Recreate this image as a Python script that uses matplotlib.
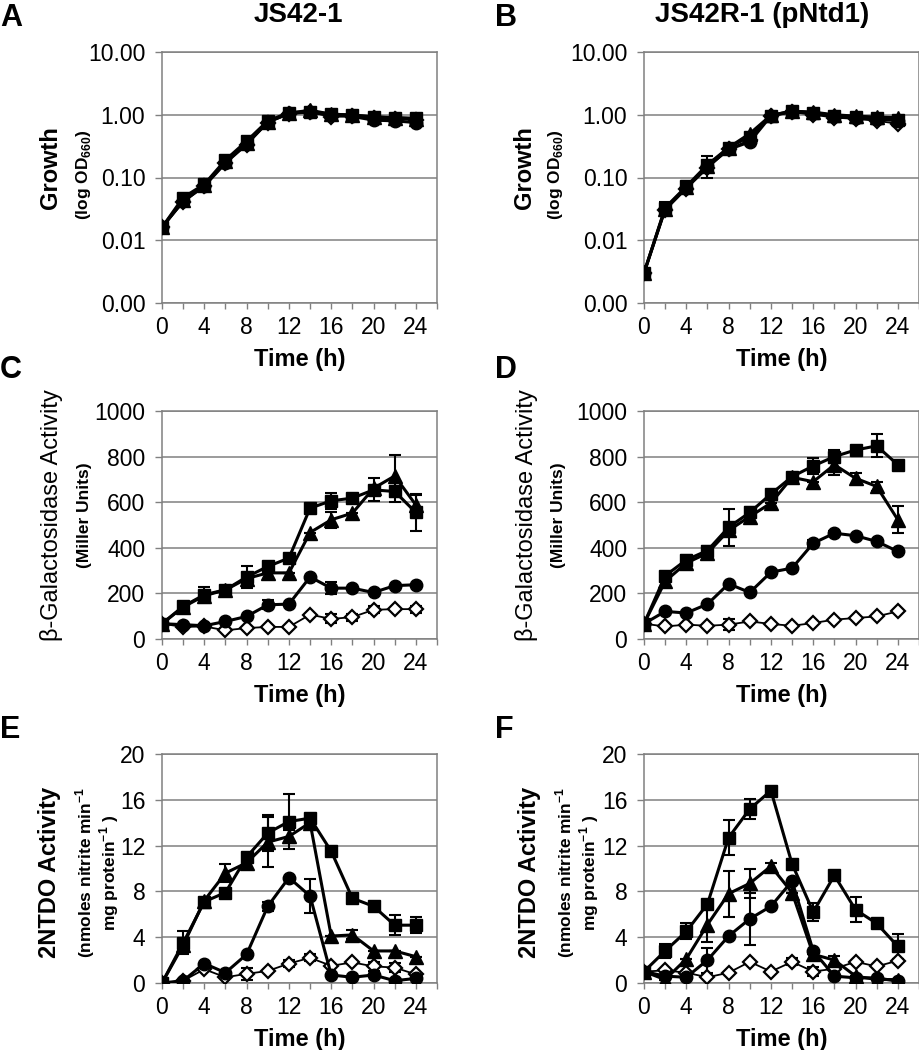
import matplotlib
matplotlib.use("Agg")
import matplotlib.pyplot as plt
from matplotlib.ticker import FixedLocator, FormatStrFormatter, NullLocator

plt.rcParams['font.family'] = ['Liberation Sans', 'DejaVu Sans']
plt.rcParams['mathtext.fontset'] = 'custom'
plt.rcParams['mathtext.rm'] = 'Liberation Sans'
plt.rcParams['mathtext.bf'] = 'Liberation Sans:bold'

W, H = 920, 1050

# time points (h)
time = [0, 2, 4, 6, 8, 10, 12, 14, 16, 18, 20, 22, 24]

# ---- A: JS42-1 growth (OD660) ----
a_square = [0.016, 0.048, 0.078, 0.19, 0.38, 0.80, 1.08, 1.12, 1.03, 0.98, 0.93, 0.90, 0.88]
a_triangle = [0.016, 0.044, 0.075, 0.18, 0.36, 0.78, 1.06, 1.18, 1.02, 0.99, 0.92, 0.89, 0.86]
a_circle = [0.016, 0.042, 0.073, 0.17, 0.34, 0.76, 1.05, 1.10, 0.98, 0.94, 0.82, 0.80, 0.75]
a_diamond = [0.016, 0.040, 0.072, 0.17, 0.33, 0.75, 1.02, 1.12, 0.92, 0.96, 0.88, 0.86, 0.82]

# ---- B: JS42R-1 (pNtd1) growth ----
b_square = [0.003, 0.033, 0.072, 0.16, 0.30, 0.45, 0.97, 1.15, 1.08, 0.97, 0.93, 0.88, 0.84]
b_triangle = [0.003, 0.032, 0.070, 0.15, 0.30, 0.50, 0.98, 1.14, 1.10, 1.00, 0.95, 0.92, 0.90]
b_circle = [0.003, 0.031, 0.068, 0.15, 0.28, 0.37, 0.96, 1.12, 1.06, 0.96, 0.90, 0.86, 0.80]
b_diamond = [0.003, 0.030, 0.066, 0.14, 0.28, 0.40, 0.95, 1.10, 1.00, 0.90, 0.86, 0.80, 0.72]
b_err_square = [0, 0.008, 0, 0.06, 0, 0, 0, 0, 0, 0, 0, 0, 0]

# ---- C: JS42-1 beta-galactosidase (Miller units) ----
c_square = [67, 143, 194, 216, 272, 318, 355, 574, 606, 618, 654, 647, 555]
c_triangle = [67, 140, 190, 215, 265, 290, 290, 467, 523, 552, 661, 715, 588]
c_circle = [67, 63, 58, 77, 99, 150, 153, 272, 223, 223, 204, 234, 238]
c_diamond = [67, 53, 55, 38, 48, 53, 53, 107, 88, 96, 128, 131, 131]
c_err_square = [0, 15, 35, 0, 50, 20, 0, 0, 35, 0, 50, 45, 80]
c_err_triangle = [0, 0, 0, 0, 0, 0, 0, 0, 35, 0, 0, 90, 45]
c_err_circle = [0, 0, 0, 0, 0, 20, 0, 0, 25, 0, 0, 0, 0]
c_err_diamond = [0, 0, 0, 0, 0, 0, 0, 0, 20, 15, 15, 0, 15]

# ---- D: JS42R-1 (pNtd1) beta-galactosidase ----
d_square = [67, 277, 347, 388, 490, 555, 636, 712, 759, 800, 829, 847, 764]
d_triangle = [67, 253, 333, 377, 476, 537, 596, 709, 690, 764, 705, 669, 523]
d_circle = [67, 121, 114, 153, 242, 204, 293, 311, 420, 464, 453, 428, 384]
d_diamond = [67, 55, 63, 58, 63, 77, 66, 58, 70, 85, 92, 99, 121]
d_err_square = [0, 15, 20, 20, 80, 25, 0, 0, 35, 30, 0, 50, 0]
d_err_triangle = [0, 0, 0, 0, 0, 30, 0, 0, 0, 45, 25, 20, 60]
d_err_circle = [0, 0, 0, 0, 0, 0, 0, 0, 15, 10, 0, 0, 0]
d_err_diamond = [0, 0, 0, 0, 25, 0, 0, 0, 0, 0, 0, 0, 0]

# ---- E: JS42-1 2NTDO activity ----
e_square = [0, 3.5, 7.1, 7.9, 11.0, 13.1, 14.1, 14.4, 11.5, 7.4, 6.7, 5.05, 5.05]
e_triangle = [0, 3.3, 7.2, 9.6, 10.5, 12.3, 12.8, 14.0, 4.1, 4.2, 2.8, 2.8, 2.3]
e_circle = [0, 0.2, 1.7, 0.9, 2.5, 6.7, 9.2, 7.6, 0.7, 0.5, 0.7, 0.2, 0.4]
e_diamond = [0, 0.2, 1.2, 0.5, 0.8, 1.05, 1.7, 2.2, 1.5, 1.8, 1.45, 1.35, 0.75]
e_err_square = [0, 1.0, 0.3, 0, 0, 1.6, 2.4, 0, 0, 0, 0, 0.9, 0.7]
e_err_triangle = [0, 0, 0, 0.8, 0, 2.2, 0.6, 0, 0, 0.4, 0, 0, 0]
e_err_circle = [0, 0, 0, 0, 0, 0.4, 0, 1.5, 0, 0, 0, 0, 0]
e_err_diamond = [0, 0, 0, 0, 0.5, 0, 0.3, 0.3, 0, 0, 0.4, 0.4, 0]

# ---- F: JS42R-1 (pNtd1) 2NTDO activity ----
f_square = [1.0, 2.8, 4.5, 6.9, 12.7, 15.2, 16.8, 10.4, 6.2, 9.4, 6.4, 5.2, 3.2]
f_triangle = [1.0, 0.3, 2.1, 5.1, 7.8, 8.7, 10.2, 7.9, 2.5, 2.0, 0.6, 0.3, 0.3]
f_circle = [1.0, 0.6, 0.5, 2.0, 4.1, 5.6, 6.7, 8.9, 2.8, 0.6, 0.45, 0.45, 0.15]
f_diamond = [1.0, 1.1, 0.9, 0.5, 0.9, 1.85, 1.0, 1.85, 1.0, 1.25, 1.85, 1.45, 1.95]
f_err_square = [0, 0.6, 0.7, 0, 1.5, 0.9, 0, 0, 0.8, 0, 1.1, 0, 1.1]
f_err_triangle = [0, 0, 0, 1.5, 2.0, 1.3, 0.3, 0, 0, 0.4, 0, 0, 0]
f_err_circle = [0, 0, 0, 1.1, 0, 2.3, 0, 0, 0, 0, 0, 0, 0]
f_err_diamond = [0, 0, 0, 0, 0, 0, 0, 0.3, 0.4, 0, 0, 0, 0]

xticks = [0, 4, 8, 12, 16, 20, 24]
growth_ticks = [0.001, 0.01, 0.1, 1, 10]
galacto_ticks = [0, 200, 400, 600, 800, 1000]
ntdo_ticks = [0, 4, 8, 12, 16, 20]

GRID = '#808080'


def fx(px):
    return px / W


def fy(py):
    return 1 - py / H


def make_axes(fig, left, top, right, bottom):
    return fig.add_axes([fx(left), fy(bottom), fx(right - left), (bottom - top) / H])


def draw_series(ax, ys, errs):
    styles = [
        dict(marker='D', mfc='white', mec='black', ms=7.5, mew=1.6, lw=1.3),
        dict(marker='o', mfc='black', mec='black', ms=9, lw=2.2),
        dict(marker='^', mfc='black', mec='black', ms=9.5, lw=2.2),
        dict(marker='s', mfc='black', mec='black', ms=9, lw=2.2),
    ]
    for y, e, st in zip(ys, errs, styles):
        if e is not None:
            ax.errorbar(time, y, yerr=e, fmt='none', ecolor='black',
                        elinewidth=1.5, capsize=4, capthick=1.5, zorder=2)
        ax.plot(time, y, color='black', zorder=3, **st)


def style_axes(ax, yticks):
    ax.set_xlim(0, 26)
    ax.set_xticks(xticks)
    ax.set_xticks(range(0, 27, 2), minor=True)
    ax.yaxis.set_major_locator(FixedLocator(yticks))
    ax.yaxis.set_minor_locator(NullLocator())
    ax.grid(axis='y', color=GRID, linewidth=1.1, zorder=0)
    ax.set_axisbelow(True)
    for sp in ax.spines.values():
        sp.set_color(GRID)
        sp.set_linewidth(1.1)
    ax.tick_params(axis='both', which='both', direction='out', color=GRID,
                   labelsize=16.5, width=1.0)
    ax.tick_params(axis='x', which='both', length=4, pad=5)
    ax.tick_params(axis='y', length=5, pad=7)
    ax.set_xlabel('Time (h)', fontsize=17, fontweight='bold', labelpad=7)


fig = plt.figure(figsize=(W / 100, H / 100), dpi=100)

cols = [(162, 437), (644, 919)]
rows = [(52, 303), (411, 639), (754, 983)]

panels = [
    ('A', (a_diamond, a_circle, a_triangle, a_square), (None, None, None, None), 'growth'),
    ('B', (b_diamond, b_circle, b_triangle, b_square), (None, None, None, b_err_square), 'growth'),
    ('C', (c_diamond, c_circle, c_triangle, c_square),
     (c_err_diamond, c_err_circle, c_err_triangle, c_err_square), 'gal'),
    ('D', (d_diamond, d_circle, d_triangle, d_square),
     (d_err_diamond, d_err_circle, d_err_triangle, d_err_square), 'gal'),
    ('E', (e_diamond, e_circle, e_triangle, e_square),
     (e_err_diamond, e_err_circle, e_err_triangle, e_err_square), 'ntdo'),
    ('F', (f_diamond, f_circle, f_triangle, f_square),
     (f_err_diamond, f_err_circle, f_err_triangle, f_err_square), 'ntdo'),
]

for i, (letter, ys, errs, kind) in enumerate(panels):
    r, c = divmod(i, 2)
    left, right = cols[c]
    top, bottom = rows[r]
    ax = make_axes(fig, left, top, right, bottom)
    draw_series(ax, ys, errs)
    off = left - 162
    yc = (top + bottom) / 2
    if kind == 'growth':
        ax.set_yscale('log')
        ax.set_ylim(0.001, 10)
        style_axes(ax, growth_ticks)
        ax.yaxis.set_major_formatter(FormatStrFormatter('%.2f'))
        ax.yaxis.set_minor_locator(NullLocator())
        fig.text(fx(51 + off - (8 if c else 0)), fy(yc - 10), 'Growth', rotation=90,
                 ha='center', va='center', fontsize=17, fontweight='bold')
        fig.text(fx(84 + off - (10 if c else 0)), fy(yc - 3), r'(log OD$_{\mathbf{660}}$)',
                 rotation=90, ha='center', va='center', fontsize=12.5, fontweight='bold')
    elif kind == 'gal':
        ax.set_ylim(0, 1000)
        style_axes(ax, galacto_ticks)
        fig.text(fx(52 + off - (8 if c else 0)), fy(yc - 10), 'β-Galactosidase Activity',
                 rotation=90, ha='center', va='center', fontsize=17)
        fig.text(fx(85 + off - (8 if c else 0)), fy(yc - 10), '(Miller Units)', rotation=90,
                 ha='center', va='center', fontsize=12.5, fontweight='bold')
    else:
        ax.set_ylim(0, 20)
        style_axes(ax, ntdo_ticks)
        fig.text(fx(50 + off - (2 if c else 0)), fy(yc + 4), '2NTDO Activity', rotation=90,
                 ha='center', va='center', fontsize=17, fontweight='bold')
        fig.text(fx(97 + off - (2 if c else 0)), fy(yc + 4),
                 '(nmoles nitrite min$^{\\mathbf{-1}}$\nmg protein$^{\\mathbf{-1}}$ )',
                 rotation=90, ha='center', va='center', fontsize=12.5, fontweight='bold',
                 multialignment='center', linespacing=1.05)
    lx = 0 if c == 0 else 495
    ly = [3, 355, 715][r]
    fig.text(fx(lx), fy(ly), letter, ha='left', va='top', fontsize=22, fontweight='bold')

fig.text(fx(298), fy(15), 'JS42-1', ha='center', va='center', fontsize=20, fontweight='bold')
fig.text(fx(762), fy(15), 'JS42R-1 (pNtd1)', ha='center', va='center', fontsize=20,
         fontweight='bold')

fig.savefig('out.png', dpi=100)
